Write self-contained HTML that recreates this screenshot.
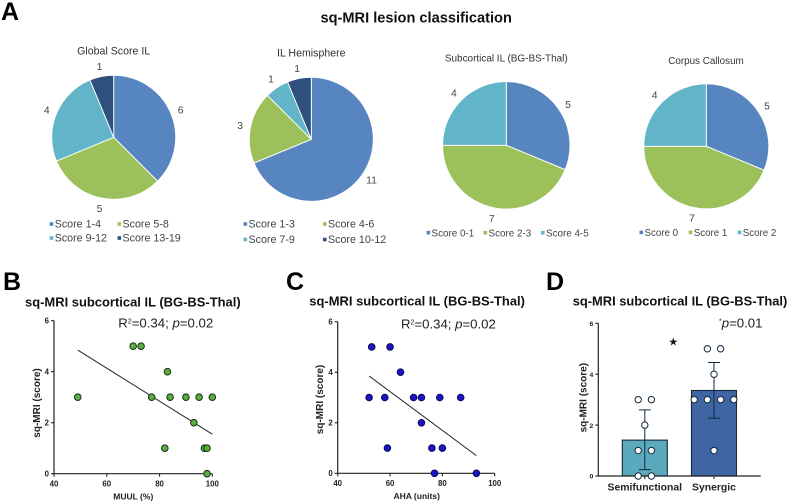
<!DOCTYPE html>
<html>
<head>
<meta charset="utf-8">
<title>sq-MRI lesion classification</title>
<style>
html,body{margin:0;padding:0;background:#fff;}
svg{display:block;font-family:"Liberation Sans",sans-serif;}
</style>
</head>
<body>
<svg id="figure" xmlns="http://www.w3.org/2000/svg" width="788" height="503" viewBox="0 0 788 503">
  <rect x="0" y="0" width="788" height="503" fill="#ffffff"/>
  <text x="1" y="20" font-size="25" font-weight="700" fill="#000">A</text>
  <text x="3" y="290" font-size="25" font-weight="700" fill="#000">B</text>
  <text x="286" y="290" font-size="25" font-weight="700" fill="#000">C</text>
  <text x="546" y="290" font-size="25" font-weight="700" fill="#000">D</text>
  <text x="320.5" y="22.5" font-size="14.6" font-weight="700" fill="#111">sq-MRI lesion classification</text>
  <text x="113.7" y="54.3" font-size="10.6" fill="#333" text-anchor="middle">Global Score IL</text>
  <text x="311.3" y="56.7" font-size="10.6" fill="#333" text-anchor="middle">IL Hemisphere</text>
  <text x="506.3" y="61.3" font-size="9.95" fill="#333" text-anchor="middle">Subcortical IL (BG-BS-Thal)</text>
  <text x="706" y="64" font-size="9.85" fill="#333" text-anchor="middle">Corpus Callosum</text>
  <text x="25" y="306.7" font-size="12.96" font-weight="700" fill="#111">sq-MRI subcortical IL (BG-BS-Thal)</text>
  <text x="309.3" y="305.5" font-size="12.96" font-weight="700" fill="#111">sq-MRI subcortical IL (BG-BS-Thal)</text>
  <text x="572.7" y="305.7" font-size="12.9" font-weight="700" fill="#111">sq-MRI subcortical IL (BG-BS-Thal)</text>
  <text x="118.3" y="327.3" font-size="13.2" fill="#222">R<tspan font-size="7" dy="-4">2</tspan><tspan dy="4">=0.34; </tspan><tspan font-style="italic">p</tspan>=0.02</text>
  <text x="401" y="328.3" font-size="13.2" fill="#222">R<tspan font-size="7" dy="-4">2</tspan><tspan dy="4">=0.34; </tspan><tspan font-style="italic">p</tspan>=0.02</text>
  <text x="719" y="327.7" font-size="13.2" fill="#222"><tspan font-size="7" dy="-4">*</tspan><tspan font-style="italic" dy="4">p</tspan>=0.01</text>
  <text x="673.3" y="345.5" font-size="11" fill="#111" text-anchor="middle" style="font-family:'DejaVu Sans',sans-serif">★</text>
</svg>
<script>
var globalCategories = ['Score 1-4', 'Score 5-8', 'Score 9-12', 'Score 13-19'];
var globalValues = [6, 5, 4, 1];
var hemisphereCategories = ['Score 1-3', 'Score 4-6', 'Score 7-9', 'Score 10-12'];
var hemisphereValues = [11, 3, 1, 1];
var subcorticalCategories = ['Score 0-1', 'Score 2-3', 'Score 4-5'];
var subcorticalValues = [5, 7, 4];
var callosumCategories = ['Score 0', 'Score 1', 'Score 2'];
var callosumValues = [5, 7, 4];

var muulValues = [49, 70, 73, 83, 77, 84, 90, 95, 100, 93, 82, 97, 98, 98];
var muulScores = [3, 5, 5, 4, 3, 3, 3, 3, 3, 2, 1, 1, 1, 0];
var muulTrendX = [49, 100];
var muulTrendY = [4.85, 1.55];

var ahaValues = [53, 60, 64, 52, 58, 69, 72, 79, 87, 72, 59, 76, 80, 77, 93];
var ahaScores = [5, 5, 4, 3, 3, 3, 3, 3, 3, 2, 1, 1, 1, 0, 0];
var ahaTrendX = [52, 93];
var ahaTrendY = [3.85, 0.7];

var xTickLabels = [40, 60, 80, 100];
var yTickLabels = [0, 2, 4, 6];

var groupCategories = ['Semifunctional', 'Synergic'];
var groupMeans = [1.41, 3.36];
var groupErrorLow = [0.25, 2.27];
var groupErrorHigh = [2.6, 4.46];
var semifunctionalScores = [3, 3, 2, 1, 1, 0, 0];
var synergicScores = [5, 5, 4, 3, 3, 3, 3, 1];

var NS = 'http://www.w3.org/2000/svg';
var fig = document.getElementById('figure');
var pieColors = ['#5785bf', '#9cc15a', '#62b5c8', '#2f4f7c'];

function mk(tag, attrs, parent) {
  var el = document.createElementNS(NS, tag);
  for (var k in attrs) { el.setAttribute(k, attrs[k]); }
  (parent || fig).appendChild(el);
  return el;
}

function drawPie(cx, cy, r, cats, vals, legendSpots, legendSize) {
  var total = vals.reduce(function (a, b) { return a + b; }, 0);
  var acc = 0;
  vals.forEach(function (v, i) {
    var a0 = acc / total * 2 * Math.PI;
    acc += v;
    var a1 = acc / total * 2 * Math.PI;
    var d = 'M' + cx + ' ' + cy +
      'L' + (cx + r * Math.sin(a0)) + ' ' + (cy - r * Math.cos(a0)) +
      'A' + r + ' ' + r + ' 0 ' + (a1 - a0 > Math.PI ? 1 : 0) + ' 1 ' +
      (cx + r * Math.sin(a1)) + ' ' + (cy - r * Math.cos(a1)) + 'Z';
    var slice = mk('path', { d: d, fill: pieColors[i], stroke: '#fff', 'stroke-width': 0.9 });
    
    
    var mid = (a0 + a1) / 2;
    var label = mk('text', {
      x: cx + (r + 10.5) * Math.sin(mid),
      y: cy - (r + 10.5) * Math.cos(mid) + 3.7,
      'font-size': 10.4, fill: '#444', 'text-anchor': 'middle'
    });
    label.textContent = v;
    
    
    var spot = legendSpots[i];
    var sw = mk('rect', { x: spot[0], y: spot[1] - 1.8, width: 3.6, height: 3.6, fill: pieColors[i] });
    
    
    var t = mk('text', { x: spot[0] + 5, y: spot[1] + 3.7, 'font-size': legendSize, fill: '#444' });
    t.textContent = cats[i];
    
    
  });
}

drawPie(113.7, 137.3, 62, globalCategories, globalValues,
  [[49.7, 224], [117.5, 224], [49.7, 238], [117.5, 238]], 10.7);
drawPie(311.3, 139.3, 62, hemisphereCategories, hemisphereValues,
  [[243.5, 224], [323, 224], [243.5, 239.5], [323, 239.5]], 10.7);
drawPie(506.3, 145.3, 63.7, subcorticalCategories, subcorticalValues,
  [[426.5, 232.7], [483.5, 232.7], [541, 232.7]], 9.85);
drawPie(706.3, 146.3, 62.5, callosumCategories, callosumValues,
  [[639.5, 232.4], [688.7, 232.4], [737.7, 232.4]], 9.75);

function drawAxes(o) {
  var ax = mk('path', {
    d: 'M' + o.x0 + ' ' + o.yTop + 'V' + o.y0 + 'H' + o.x1,
    fill: 'none', stroke: '#222', 'stroke-width': 1.2
  });
  
  
  yTickLabels.forEach(function (v) {
    var y = o.sy(v);
    var tk = mk('line', { x1: o.x0 - 3, x2: o.x0, y1: y, y2: y, stroke: '#222', 'stroke-width': 1.1 });
    
    
    var t = mk('text', {
      x: o.x0 - 5, y: y + 2.7, 'font-size': o.tickSize, 'font-weight': 700,
      'text-anchor': 'end', fill: '#222'
    });
    t.textContent = v;
    
    
  });
  var yt = mk('text', {
    transform: 'translate(' + o.yTitleX + ' ' + o.yTitleY + ') rotate(-90)',
    'font-size': 10, 'font-weight': 700, 'text-anchor': 'middle', fill: '#222'
  });
  yt.textContent = 'sq-MRI (score)';
  
  
}

function drawScatter(o, xs, ys, tx, ty, fill, stroke, xTitle) {
  var sx = function (v) { return o.x0 + (v - 40) / 60 * (o.x1 - o.x0); };
  o.sy = function (v) { return o.y0 - v / 6 * (o.y0 - o.yTop); };
  drawAxes(o);
  xTickLabels.forEach(function (v) {
    var x = sx(v);
    var tk = mk('line', { x1: x, x2: x, y1: o.y0, y2: o.y0 + 3, stroke: '#222', 'stroke-width': 1.1 });
    
    
    var t = mk('text', {
      x: x, y: o.y0 + 12.8, 'font-size': o.tickSize, 'font-weight': 700,
      'text-anchor': 'middle', fill: '#222'
    });
    t.textContent = v;
    
    
  });
  var xt = mk('text', {
    x: o.xTitleX, y: o.y0 + 25.7, 'font-size': 8.5, 'font-weight': 700,
    'text-anchor': 'middle', fill: '#222'
  });
  xt.textContent = xTitle;
  
  
  var trend = mk('line', {
    x1: sx(tx[0]), y1: o.sy(ty[0]), x2: sx(tx[1]), y2: o.sy(ty[1]),
    stroke: '#222', 'stroke-width': 1
  });
  
  
  xs.forEach(function (v, i) {
    var c = mk('circle', {
      cx: sx(v), cy: o.sy(ys[i]), r: 3.3,
      fill: fill, stroke: stroke, 'stroke-width': 1
    });
    
    
  });
}

drawScatter({ x0: 54, x1: 212.3, y0: 473.7, yTop: 320.7, tickSize: 7.8,
  yTitleX: 40, yTitleY: 403, xTitleX: 133.3 },
  muulValues, muulScores, muulTrendX, muulTrendY, '#5aac43', '#17320f', 'MUUL (%)');
drawScatter({ x0: 337.7, x1: 494.7, y0: 473.3, yTop: 321.7, tickSize: 7.8,
  yTitleX: 323, yTitleY: 399.5, xTitleX: 416.7 },
  ahaValues, ahaScores, ahaTrendX, ahaTrendY, '#1c12cc', '#0b0a50', 'AHA (units)');

(function () {
  var o = { x0: 598.3, x1: 760.7, y0: 476, yTop: 323.3, tickSize: 6.8, yTitleX: 586.7, yTitleY: 397.7 };
  o.sy = function (v) { return o.y0 - v / 6 * (o.y0 - o.yTop); };
  var centers = [o.x0 + 46.5, o.x0 + 115.7];
  var barW = 45;
  var barFill = ['#5aa9bd', '#3f66a3'];
  var groupPoints = [semifunctionalScores, synergicScores];
  groupCategories.forEach(function (name, i) {
    var b = mk('rect', {
      x: centers[i] - barW / 2, y: o.sy(groupMeans[i]), width: barW,
      height: o.y0 - o.sy(groupMeans[i]),
      fill: barFill[i], stroke: '#13293d', 'stroke-width': 1.1
    });
    
    
  });
  drawAxes(o);
  groupCategories.forEach(function (name, i) {
    var cx = centers[i];
    var tk = mk('line', { x1: cx, x2: cx, y1: o.y0, y2: o.y0 + 3, stroke: '#222', 'stroke-width': 1.1 });
    
    
    var t = mk('text', {
      x: cx, y: 490.7, 'font-size': 10.4, 'font-weight': 700, 'text-anchor': 'middle', fill: '#222'
    });
    t.textContent = name;
    
    
    var yl = o.sy(groupErrorLow[i]), yh = o.sy(groupErrorHigh[i]);
    var err = mk('path', {
      d: 'M' + cx + ' ' + yl + 'V' + yh + 'M' + (cx - 6) + ' ' + yl + 'H' + (cx + 6) +
         'M' + (cx - 6) + ' ' + yh + 'H' + (cx + 6),
      fill: 'none', stroke: '#13293d', 'stroke-width': 1
    });
    
    
    var pts = groupPoints[i];
    var counts = {};
    pts.forEach(function (s) { counts[s] = (counts[s] || 0) + 1; });
    var seen = {};
    pts.forEach(function (s) {
      seen[s] = seen[s] || 0;
      var off = (seen[s] - (counts[s] - 1) / 2) * 13.2;
      seen[s]++;
      var c = mk('circle', {
        cx: cx + off, cy: o.sy(s), r: 3.2,
        fill: '#fff', stroke: '#13293d', 'stroke-width': 1
      });
      
      
    });
  });
})();
</script>
</body>
</html>
